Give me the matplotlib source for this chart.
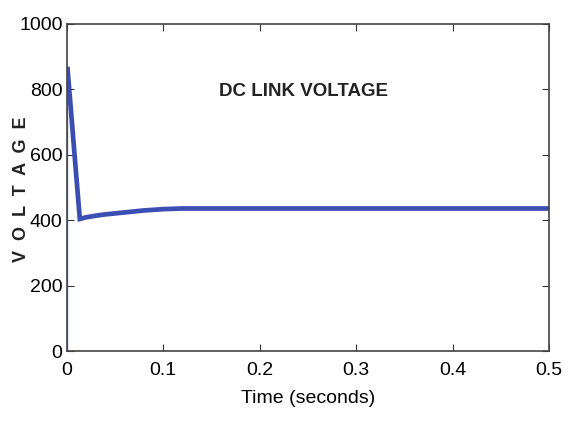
import matplotlib
matplotlib.use('Agg')
import matplotlib.pyplot as plt

# DC link voltage samples (time in s, voltage in V)
t = [0.0008, 0.0135, 0.02, 0.03, 0.04, 0.05, 0.06, 0.07, 0.08, 0.09, 0.1, 0.12, 0.15, 0.2, 0.3, 0.4, 0.5]
v = [862, 404, 409, 414, 418, 421, 424, 427, 430, 432, 434, 436, 436, 436, 436, 436, 436]
# initial charging step at t = 0
t0 = [0.0, 0.0, 0.0008]
v0 = [0.0, 862, 862]

xticks = [0, 0.1, 0.2, 0.3, 0.4, 0.5]
yticks = [0, 200, 400, 600, 800, 1000]

plt.rcParams['font.family'] = ['Liberation Sans', 'DejaVu Sans']

fig = plt.figure(figsize=(5.66, 4.21), dpi=100)
ax = fig.add_axes([0.118, 0.166, 0.852, 0.777])

ax.plot(t0, v0, color='#6f7ccc', lw=1.0)
ax.plot(t, v, color='#3b4fb2', lw=3.4, solid_joinstyle='miter')

ax.set_xlim(0, 0.5)
ax.set_ylim(0, 1000)
ax.set_xticks(xticks)
ax.set_yticks(yticks)
ax.set_xticklabels(['0', '0.1', '0.2', '0.3', '0.4', '0.5'])
ax.tick_params(direction='in', top=True, right=True, labelsize=14, length=5, color='#333333')
ax.tick_params(axis='x', pad=8)
ax.tick_params(axis='y', pad=3)
for s in ax.spines.values():
    s.set_color('#444444')
    s.set_linewidth(1.2)

ax.text(0.49, 0.795, 'DC LINK VOLTAGE', transform=ax.transAxes, ha='center', va='center',
        fontsize=13.5, fontweight='bold', color='#222222')
ax.set_xlabel('Time (seconds)', fontsize=14, labelpad=8)
fig.text(0.038, 0.55, 'V  O  L  T  A  G  E', rotation=90, ha='center', va='center',
         fontsize=13, fontweight='bold', color='#222222')

fig.savefig('out.png', dpi=100)
